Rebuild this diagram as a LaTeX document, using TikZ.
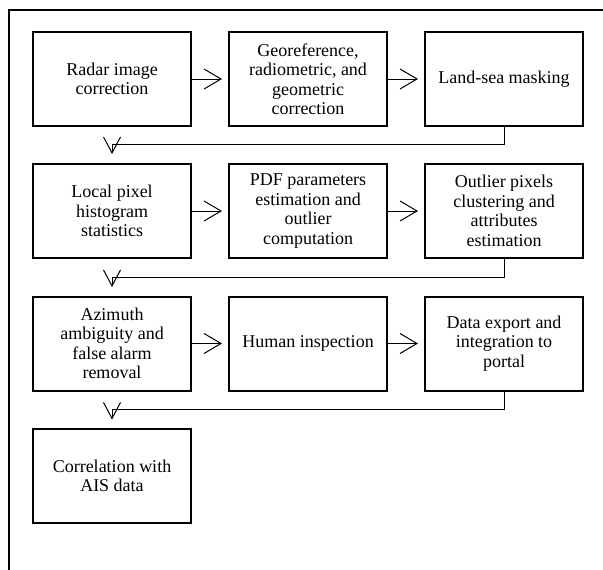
\documentclass[tikz,border=0pt]{standalone}
\usepackage{fontspec}
\setmainfont{Liberation Serif}
\newfontfamily\boxfont{Liberation Serif}
\usetikzlibrary{arrows.meta,calc}
\begin{document}
\begin{tikzpicture}[x=1pt,y=1pt,
  stepbox/.style={draw, line width=2pt, minimum width=158pt, minimum height=94pt,
    align=center, inner sep=2pt, font=\boxfont\fontsize{18}{19.5}\selectfont},
  fwd/.style={line width=1pt, -{Straight Barb[length=17pt,width=20pt,line width=1pt]}, shorten >=6pt},
  ret/.style={line width=1pt, -{Straight Barb[length=16pt,width=17pt,line width=1pt]}}
]
\useasboundingbox (0,0) rectangle (603,-570);
\draw[line width=1.5pt] (603,-10) -- (9,-10) -- (9,-571);

\node[stepbox] (b1) at (112,-79) {Radar image\\correction};
\node[stepbox] (b2) at (308,-79) {Georeference,\\radiometric, and\\geometric\\correction};
\node[stepbox] (b3) at (504,-79) {Land-sea masking};

\node[stepbox] (b4) at (112,-211) {Local pixel\\histogram\\statistics};
\node[stepbox] (b5) at (308,-211) {PDF parameters\\estimation and\\outlier\\computation};
\node[stepbox] (b6) at (504,-211) {Outlier pixels\\clustering and\\attributes\\estimation};

\node[stepbox] (b7) at (112,-343.5) {Azimuth\\ambiguity and\\false alarm\\removal};
\node[stepbox] (b8) at (308,-343.5) {Human inspection};
\node[stepbox] (b9) at (504,-343.5) {Data export and\\integration to\\portal};

\node[stepbox] (b10) at (112,-476) {Correlation with\\AIS data};

\draw[fwd] (b1) -- (b2);
\draw[fwd] (b2) -- (b3);
\draw[fwd] (b4) -- (b5);
\draw[fwd] (b5) -- (b6);
\draw[fwd] (b7) -- (b8);
\draw[fwd] (b8) -- (b9);

\coordinate (k1) at ($(b1.south)+(0,-17)$);
\coordinate (t1) at ($(k1)+(0,-10)$);
\coordinate (k2) at ($(b4.south)+(0,-18)$);
\coordinate (t2) at ($(k2)+(0,-10)$);
\coordinate (k3) at ($(b7.south)+(0,-18)$);
\coordinate (t3) at ($(k3)+(0,-10)$);

\draw[ret] (b3.south) |- (k1) -- (t1);
\draw[ret] (b6.south) |- (k2) -- (t2);
\draw[ret] (b9.south) |- (k3) -- (t3);
\end{tikzpicture}
\end{document}
